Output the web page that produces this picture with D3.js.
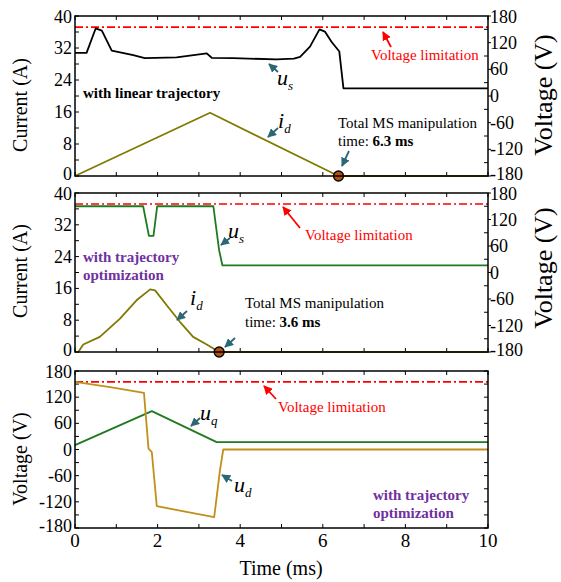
<!DOCTYPE html>
<html>
<head>
<meta charset="utf-8">
<script src="https://cdn.jsdelivr.net/npm/d3@7"></script>
<style>
	body { margin: 0; background: #fff; }
	svg text { font-family: "Liberation Serif", "Times New Roman", serif; }
</style>
</head>
<body>
<svg id="chart" width="561" height="582"></svg>
<script>
// time axis (ms)
var timeTicks = [0, 2, 4, 6, 8, 10];
var currentTicks = [0, 8, 16, 24, 32, 40];
var voltageTicks = [-180, -120, -60, 0, 60, 120, 180];
var voltageLimit = 155;

// panel 1 : linear trajectory  [t (ms), value]
var linUs = [[0, 97], [0.28, 97], [0.5, 152], [0.65, 147], [0.89, 102], [1.41, 92], [1.69, 85],
	[2.46, 87], [3.19, 96], [3.31, 86], [3.83, 85], [4.88, 82.5], [5.3, 84], [5.45, 88],
	[5.69, 111], [5.92, 150], [6.05, 145], [6.21, 122], [6.4, 100], [6.5, 17], [10, 17]];
var linId = [[0, 0], [3.27, 15.8], [6.38, 0], [10, 0]];
var linEnd = 6.38;

// panel 2 : trajectory optimization
var optUs = [[0, 150], [1.65, 150], [1.79, 83], [1.9, 83], [1.99, 150], [3.35, 150],
	[3.49, 50], [3.57, 16], [10, 16]];
var optId = [[0, 0], [0.08, 0], [0.2, 1.9], [0.6, 3.8], [1.09, 8.4], [1.49, 13], [1.82, 15.75],
	[1.94, 15.5], [2.22, 11.75], [2.54, 7.6], [2.86, 3.8], [3.19, 1.9], [3.49, 0], [10, 0]];
var optEnd = 3.49;

// panel 3 : dq voltages
var optUd = [[0, 155], [0.85, 143], [1.67, 130], [1.78, 2], [1.86, -6], [1.98, -130],
	[2.7, -143], [3.37, -155], [3.51, -48], [3.59, 0], [10, 0]];
var optUq = [[0, 10], [1.86, 88], [3.43, 17], [10, 17]];

var svg = d3.select("#chart");
var xLeft = 75, xRight = 488;
var x = d3.scaleLinear().domain([0, 10]).range([xLeft, xRight]);

var limColor = "#ff0000", arrowColor = "#2c6776";

svg.append("defs").append("marker")
	.attr("id", "head")
	.attr("viewBox", "0 0 10 10")
	.attr("refX", 9).attr("refY", 5)
	.attr("markerWidth", 5).attr("markerHeight", 5)
	.attr("orient", "auto")
	.append("path")
		.attr("d", "M 0 0 L 10 5 L 0 10 z")
		.attr("fill", arrowColor);
svg.append("defs").append("marker")
	.attr("id", "headRed")
	.attr("viewBox", "0 0 10 10")
	.attr("refX", 9).attr("refY", 5)
	.attr("markerWidth", 5).attr("markerHeight", 5)
	.attr("orient", "auto")
	.append("path")
		.attr("d", "M 0 0 L 10 5 L 0 10 z")
		.attr("fill", limColor);

// stacked panels: lift the lowest label a bit, push the top one down
function labelDy(i, n) {
	if (i == 0) return 4;
	if (i == n - 1) return 7;
	return 6;
}

function panel(top, bottom, cfg) {
	var g = svg.append("g");
	var yL = d3.scaleLinear().domain(cfg.leftDomain).range([bottom, top]);
	var yR = d3.scaleLinear().domain([-180, 180]).range([bottom, top]);

	// x ticks, top and bottom, pointing in
	d3.range(0, 11).forEach(function(t) {
		g.append("line").attr("x1", x(t)).attr("x2", x(t))
			.attr("y1", bottom).attr("y2", bottom - 4)
			.attr("stroke", "#000").attr("stroke-width", 1);
		g.append("line").attr("x1", x(t)).attr("x2", x(t))
			.attr("y1", top).attr("y2", top + 4)
			.attr("stroke", "#000").attr("stroke-width", 1);
	});

	// left ticks
	var lStep = cfg.leftTicks[1] - cfg.leftTicks[0];
	d3.range(cfg.leftDomain[0], cfg.leftDomain[1] + 0.01, lStep / 2).forEach(function(v) {
		g.append("line").attr("x1", xLeft).attr("x2", xLeft + 4)
			.attr("y1", yL(v)).attr("y2", yL(v))
			.attr("stroke", "#000").attr("stroke-width", 1);
	});
	var nl = cfg.leftTicks.length;
	g.selectAll(".lt").data(cfg.leftTicks).enter().append("text")
		.attr("x", xLeft - 3)
		.attr("y", function(d, i) { return yL(d) + (cfg.stacked ? labelDy(i, nl) : 6); })
		.attr("text-anchor", "end")
		.attr("font-size", 18)
		.text(function(d) { return d; });

	// right ticks
	d3.range(-180, 181, 30).forEach(function(v) {
		var major = v % 60 == 0;
		g.append("line")
			.attr("x1", cfg.rightLabels && major ? xRight + 3 : xRight - 4)
			.attr("x2", xRight)
			.attr("y1", yR(v)).attr("y2", yR(v))
			.attr("stroke", "#000").attr("stroke-width", 1);
	});
	if (cfg.rightLabels) {
		var nr = voltageTicks.length;
		g.selectAll(".rt").data(voltageTicks).enter().append("text")
			.attr("x", xRight + 2)
			.attr("y", function(d, i) { return yR(d) + labelDy(i, nr); })
			.attr("font-size", 18)
			.text(function(d) { return d; });
		g.append("text")
			.attr("transform", "translate(552," + cfg.rightTitleY + ") rotate(-90)")
			.attr("text-anchor", "middle")
			.attr("font-size", 26)
			.text("Voltage (V)");
	}

	g.append("text")
		.attr("transform", "translate(27," + cfg.leftTitleY + ") rotate(-90)")
		.attr("text-anchor", "middle")
		.attr("font-size", 20)
		.text(cfg.leftTitle);

	// voltage limitation
	g.append("line")
		.attr("x1", xLeft).attr("x2", xRight)
		.attr("y1", yR(voltageLimit)).attr("y2", yR(voltageLimit))
		.attr("stroke", limColor).attr("stroke-width", 1.6)
		.attr("stroke-dasharray", "8,3,2,3");

	var lineR = d3.line().x(function(d) { return x(d[0]); }).y(function(d) { return yR(d[1]); });
	var lineL = d3.line().x(function(d) { return x(d[0]); }).y(function(d) { return yL(d[1]); });

	cfg.series.forEach(function(s) {
		g.append("path")
			.attr("d", (s.axis == "right" ? lineR : lineL)(s.data))
			.attr("fill", "none")
			.attr("stroke", s.color)
			.attr("stroke-width", 1.8)
			.attr("stroke-linejoin", "round");
	});

	if (cfg.endTime !== undefined) {
		g.append("circle")
			.attr("cx", x(cfg.endTime)).attr("cy", yL(0))
			.attr("r", 5)
			.attr("fill", "#b5520a")
			.attr("stroke", "#000").attr("stroke-width", 1.3);
	}

	g.append("rect")
		.attr("x", xLeft).attr("y", top)
		.attr("width", xRight - xLeft).attr("height", bottom - top)
		.attr("fill", "none").attr("stroke", "#000").attr("stroke-width", 1.5);

	return g;
}

function arrow(x1, y1, x2, y2, red) {
	svg.append("line")
		.attr("x1", x1).attr("y1", y1).attr("x2", x2).attr("y2", y2)
		.attr("stroke", red ? limColor : arrowColor)
		.attr("stroke-width", 1.8)
		.attr("marker-end", red ? "url(#headRed)" : "url(#head)");
}

function symbol(x0, y0, main, sub) {
	var t = svg.append("text").attr("x", x0).attr("y", y0)
		.attr("font-style", "italic").attr("font-size", 22);
	t.append("tspan").text(main);
	t.append("tspan").attr("font-size", 13).attr("dy", 5).text(sub);
}

function note(x0, y0, lines, color, bold) {
	lines.forEach(function(l, i) {
		svg.append("text")
			.attr("x", x0).attr("y", y0 + i * 18)
			.attr("font-size", 15)
			.attr("font-weight", bold ? "bold" : "normal")
			.attr("fill", color)
			.text(l);
	});
}

function limNote(x0, y0) {
	svg.append("text").attr("x", x0).attr("y", y0)
		.attr("font-size", 15).attr("fill", limColor)
		.text("Voltage limitation");
}

// ---- panel 1
panel(16, 176, {
	leftDomain: [0, 40], leftTicks: currentTicks, leftTitle: "Current (A)", leftTitleY: 105,
	rightLabels: true, rightTitleY: 95, stacked: true,
	series: [
		{ data: linUs, axis: "right", color: "#000000" },
		{ data: linId, axis: "left", color: "#7f7a00" }
	],
	endTime: linEnd
});
limNote(371, 60);
arrow(391, 47, 383, 32, true);
symbol(277, 85, "u", "s");
arrow(278, 72, 269, 64);
symbol(278, 128, "i", "d");
arrow(278, 128, 268, 137);
note(83, 98, ["with linear trajectory"], "#000", true);
var t1 = svg.append("text").attr("x", 338).attr("y", 128).attr("font-size", 15);
t1.text("Total MS manipulation");
var t1b = svg.append("text").attr("x", 338).attr("y", 146).attr("font-size", 15);
t1b.append("tspan").text("time: ");
t1b.append("tspan").attr("font-weight", "bold").text("6.3 ms");
arrow(349, 151, 342, 166);

// ---- panel 2
panel(193, 352, {
	leftDomain: [0, 40], leftTicks: currentTicks, leftTitle: "Current (A)", leftTitleY: 271,
	rightLabels: true, rightTitleY: 268, stacked: true,
	series: [
		{ data: optUs, axis: "right", color: "#1f7a1f" },
		{ data: optId, axis: "left", color: "#7f7a00" }
	],
	endTime: optEnd
});
limNote(305, 240);
arrow(300, 228, 283, 207, true);
symbol(228, 238, "u", "s");
arrow(230, 238, 221, 245);
symbol(190, 305, "i", "d");
arrow(187, 311, 177, 320);
note(83, 262, ["with trajectory", "optimization"], "#7030a0", true);
var t2 = svg.append("text").attr("x", 245).attr("y", 308).attr("font-size", 15);
t2.text("Total MS manipulation");
var t2b = svg.append("text").attr("x", 245).attr("y", 327).attr("font-size", 15);
t2b.append("tspan").text("time: ");
t2b.append("tspan").attr("font-weight", "bold").text("3.6 ms");
arrow(235, 338, 225, 347);

// ---- panel 3
panel(371, 528, {
	leftDomain: [-180, 180], leftTicks: voltageTicks, leftTitle: "Voltage (V)", leftTitleY: 459,
	rightLabels: false, stacked: true,
	series: [
		{ data: optUq, axis: "left", color: "#1f7a1f" },
		{ data: optUd, axis: "left", color: "#c0901a" }
	]
});
limNote(278, 412);
arrow(276, 399, 264, 386, true);
symbol(200, 420, "u", "q");
arrow(200, 418, 191, 426);
symbol(234, 492, "u", "d");
arrow(232, 481, 222, 475);
note(373, 500, ["with trajectory", "optimization"], "#7030a0", true);

// time axis labels
svg.selectAll(".xt").data(timeTicks).enter().append("text")
	.attr("x", function(d) { return x(d); })
	.attr("y", 547)
	.attr("text-anchor", "middle")
	.attr("font-size", 19)
	.text(function(d) { return d; });
svg.append("text")
	.attr("x", 281).attr("y", 575)
	.attr("text-anchor", "middle")
	.attr("font-size", 20)
	.text("Time (ms)");
</script>
</body>
</html>
